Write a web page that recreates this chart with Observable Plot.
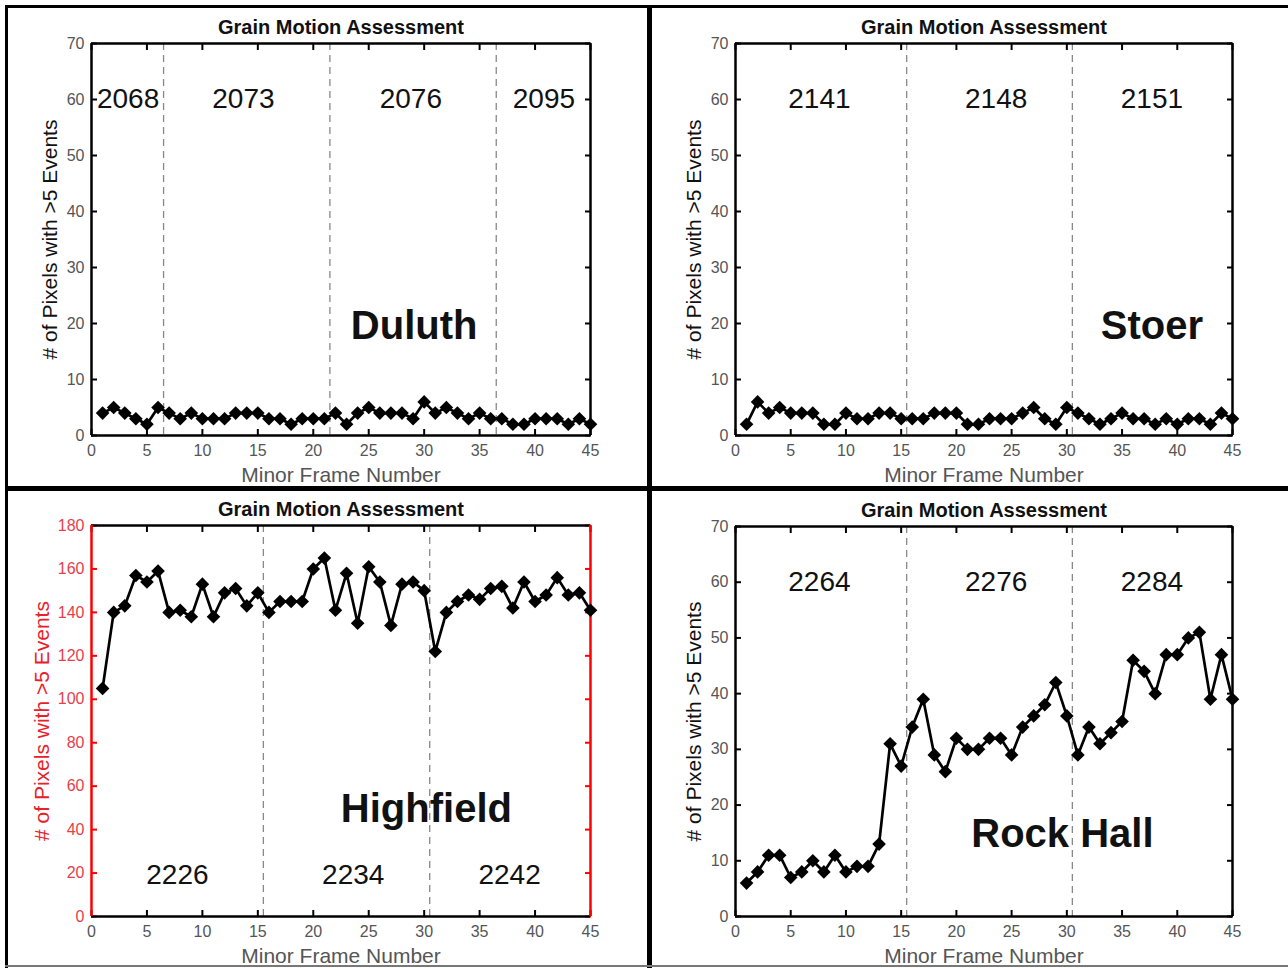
<!DOCTYPE html>
<html>
<head>
<meta charset="utf-8">
<script src="https://cdn.jsdelivr.net/npm/d3@7"></script>
<script src="https://cdn.jsdelivr.net/npm/@observablehq/plot@0.6"></script>
<style>
  html, body { margin: 0; padding: 0; background: #fff; }
  #root { position: relative; width: 1288px; height: 968px; overflow: hidden; background: #fff; font-family: "Liberation Sans", Arial, sans-serif; }
  .panel { position: absolute; }
  .bar { position: absolute; background: #000; }
</style>
</head>
<body>
<div id="root">
  <div class="panel" id="tl" style="left:0px;top:0px;"></div>
  <div class="panel" id="tr" style="left:650px;top:0px;"></div>
  <div class="panel" id="bl" style="left:0px;top:488px;"></div>
  <div class="panel" id="br" style="left:650px;top:488px;"></div>
  <div class="bar" style="left:5px;top:5px;width:1283px;height:3px;"></div>
  <div class="bar" style="left:5px;top:5px;width:3px;height:963px;"></div>
  <div class="bar" style="left:647px;top:5px;width:5px;height:963px;"></div>
  <div class="bar" style="left:5px;top:486px;width:1283px;height:5px;"></div>
  <div class="bar" style="left:5px;top:965px;width:1283px;height:2px;background:#777;"></div>
</div>
<script>
// ---------- data ----------
const frames = [1,2,3,4,5,6,7,8,9,10,11,12,13,14,15,16,17,18,19,20,21,22,23,24,25,26,27,28,29,30,31,32,33,34,35,36,37,38,39,40,41,42,43,44,45];
const xTicks = [0,5,10,15,20,25,30,35,40,45];

const duluth = [4,5,4,3,2,5,4,3,4,3,3,3,4,4,4,3,3,2,3,3,3,4,2,4,5,4,4,4,3,6,4,5,4,3,4,3,3,2,2,3,3,3,2,3,2];
const stoer = [2,6,4,5,4,4,4,2,2,4,3,3,4,4,3,3,3,4,4,4,2,2,3,3,3,4,5,3,2,5,4,3,2,3,4,3,3,2,3,2,3,3,2,4,3];
const highfield = [105,140,143,157,154,159,140,141,138,153,138,149,151,143,149,140,145,145,145,160,165,141,158,135,161,154,134,153,154,150,122,140,145,148,146,151,152,142,154,145,148,156,148,149,141];
const rockHall = [6,8,11,11,7,8,10,8,11,8,9,9,13,31,27,34,39,29,26,32,30,30,32,32,29,34,36,38,42,36,29,34,31,33,35,46,44,40,47,47,50,51,39,47,39];

const duluthDividers = [6.5, 21.5, 36.5];
const otherDividers = [15.5, 30.5];

const duluthYears = ["2068","2073","2076","2095"];
const duluthYearX = [3.3, 13.7, 28.8, 40.8];
const stoerYears = ["2141","2148","2151"];
const highfieldYears = ["2226","2234","2242"];
const rockHallYears = ["2264","2276","2284"];
const threeYearX = [7.6, 23.6, 37.7];

const titleText = "Grain Motion Assessment";
const xLabel = "Minor Frame Number";
const yLabel = "# of Pixels with >5 Events";

// ---------- drawing ----------
const diamond = {
  draw(ctx, size) {
    const r = Math.sqrt(size) * 0.62;
    ctx.moveTo(0, -r); ctx.lineTo(r, 0); ctx.lineTo(0, r); ctx.lineTo(-r, 0); ctx.closePath();
  }
};

function panel(o) {
  const sideColor = o.sideColor || "black";
  const yTickColor = o.yTickColor || "#555";
  const yLabelColor = o.yLabelColor || "#111";
  const hidden = () => "";
  return Plot.plot({
    width: o.w, height: o.h,
    marginLeft: o.ml, marginRight: o.mr, marginTop: o.mt, marginBottom: o.mb,
    style: { fontFamily: "'Liberation Sans', Arial, sans-serif", fontSize: "16px", background: "white", overflow: "visible" },
    x: { domain: [0, 45], axis: null },
    y: { domain: [0, o.yMax], axis: null },
    marks: [
      Plot.ruleX(o.dividers, { stroke: "#888", strokeWidth: 1.3, strokeDasharray: "7,5" }),
      // tick labels
      Plot.axisX({ anchor: "bottom", ticks: xTicks, tickSize: 0, tickPadding: 9, color: "#555" }),
      Plot.axisY({ anchor: "left", ticks: o.yTicks, tickSize: 0, tickPadding: 7, color: yTickColor }),
      // inward tick marks
      Plot.axisX({ anchor: "bottom", ticks: xTicks, tickSize: -6, tickFormat: hidden, stroke: "black", strokeWidth: 2 }),
      Plot.axisX({ anchor: "top", ticks: xTicks, tickSize: -6, tickFormat: hidden, stroke: "black", strokeWidth: 2 }),
      Plot.axisY({ anchor: "left", ticks: o.yTicks, tickSize: -6, tickFormat: hidden, stroke: sideColor, strokeWidth: 2 }),
      Plot.axisY({ anchor: "right", ticks: o.yTicks, tickSize: -6, tickFormat: hidden, stroke: sideColor, strokeWidth: 2 }),
      // box
      Plot.ruleY([0, o.yMax], { stroke: "black", strokeWidth: 2.5 }),
      Plot.ruleX([0, 45], { stroke: sideColor, strokeWidth: 2.5 }),
      // data
      Plot.line(frames, { x: frames, y: o.values, stroke: "black", strokeWidth: 2.7 }),
      Plot.dot(frames, { x: frames, y: o.values, symbol: diamond, r: 6.2, fill: "black", stroke: "none" }),
      // annotations
      Plot.text(o.years, { x: o.yearX, y: o.yearY, text: o.years, fontSize: 28, fill: "#111" }),
      Plot.text([o.station], { x: [o.stationX], y: [o.stationY], text: [o.station], fontSize: 40, fontWeight: "bold", fill: "#111" }),
      Plot.text([titleText], { frameAnchor: "top", lineAnchor: "middle", dy: -16, fontSize: 20, fontWeight: "bold", fill: "#111" }),
      Plot.text([xLabel], { frameAnchor: "bottom", lineAnchor: "middle", dy: 40, fontSize: 21, fill: "#555" }),
      Plot.text([yLabel], { frameAnchor: "left", textAnchor: "middle", lineAnchor: "middle", dx: o.yLabelDx || -41, rotate: -90, fontSize: 21, fill: yLabelColor })
    ]
  });
}

const y70 = [0,10,20,30,40,50,60,70];
const y180 = [0,20,40,60,80,100,120,140,160,180];

document.getElementById("tl").appendChild(panel({
  w: 650, h: 488, ml: 91, mr: 60, mt: 43, mb: 53,
  yMax: 70, yTicks: y70, values: duluth, dividers: duluthDividers,
  years: duluthYears, yearX: duluthYearX, yearY: [60,60,60,60],
  station: "Duluth", stationX: 29.1, stationY: 19.6
}));
document.getElementById("tr").appendChild(panel({
  w: 638, h: 488, ml: 85, mr: 56, mt: 43, mb: 53,
  yMax: 70, yTicks: y70, values: stoer, dividers: otherDividers,
  years: stoerYears, yearX: threeYearX, yearY: [60,60,60],
  station: "Stoer", stationX: 37.7, stationY: 19.6
}));
document.getElementById("bl").appendChild(panel({
  w: 650, h: 480, ml: 91, mr: 60, mt: 37, mb: 52,
  yMax: 180, yTicks: y180, values: highfield, dividers: otherDividers,
  years: highfieldYears, yearX: [7.75, 23.6, 37.7], yearY: [19,19,19],
  station: "Highfield", stationX: 30.2, stationY: 49.6,
  sideColor: "#ff0000", yTickColor: "#e8404a", yLabelColor: "#e8202a", yLabelDx: -49
}));
document.getElementById("br").appendChild(panel({
  w: 638, h: 480, ml: 85, mr: 56, mt: 38, mb: 52,
  yMax: 70, yTicks: y70, values: rockHall, dividers: otherDividers,
  years: rockHallYears, yearX: threeYearX, yearY: [60,60,60],
  station: "Rock Hall", stationX: 29.6, stationY: 14.7
}));
</script>
</body>
</html>
